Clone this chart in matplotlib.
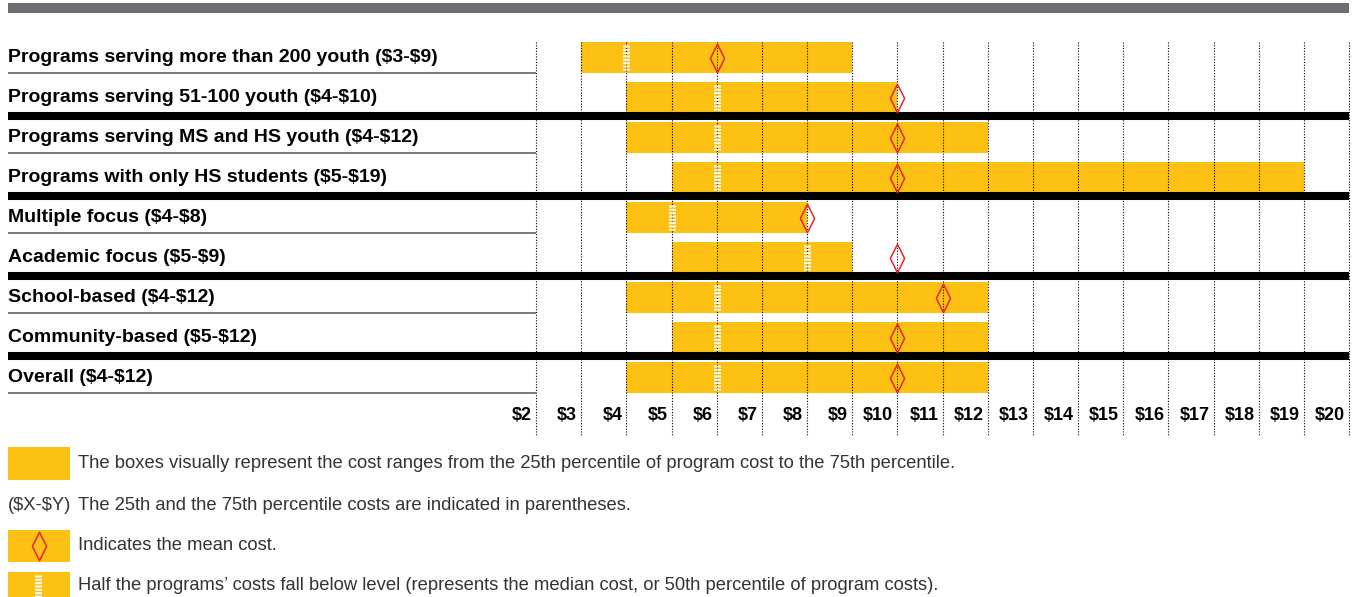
import matplotlib
matplotlib.use("Agg")
import matplotlib.pyplot as plt
from matplotlib.path import Path
from matplotlib.patches import Rectangle
import numpy as np

plt.rcParams['lines.scale_dashes'] = False

# ---------------- data ----------------
labels = [
    "Programs serving more than 200 youth ($3-$9)",
    "Programs serving 51-100 youth ($4-$10)",
    "Programs serving MS and HS youth ($4-$12)",
    "Programs with only HS students ($5-$19)",
    "Multiple focus ($4-$8)",
    "Academic focus ($5-$9)",
    "School-based ($4-$12)",
    "Community-based ($5-$12)",
    "Overall ($4-$12)",
]
p25 = [3, 4, 4, 5, 4, 5, 4, 5, 4]
p75 = [9, 10, 12, 19, 8, 9, 12, 12, 12]
median = [4, 6, 6, 6, 5, 8, 6, 6, 6]
mean = [6, 10, 10, 10, 8, 10, 11, 10, 10]
tick_values = list(range(2, 21))
tick_labels = [f"${v}" for v in tick_values]
legend_texts = [
    "The boxes visually represent the cost ranges from the 25th percentile of program cost to the 75th percentile.",
    "The 25th and the 75th percentile costs are indicated in parentheses.",
    "Indicates the mean cost.",
    "Half the programs\u2019 costs fall below level (represents the median cost, or 50th percentile of program costs).",
]

# ---------------- style ----------------
YELLOW = "#FDC113"
RED = "#E8232A"
GRAY = "#6D6E71"
W, H = 1357, 597
DPI = 100
PX_PER_D = 45.17   # pixels per dollar
X0_PIX = 536       # pixel position of $2
ROW_PITCH = 40
ROW0_PIX = 57.5

def px2x(p):
    return 2 + (p - X0_PIX) / PX_PER_D

def py2y(p):
    return (p - ROW0_PIX) / ROW_PITCH

fig = plt.figure(figsize=(W / DPI, H / DPI), dpi=DPI)
ax = fig.add_axes([0, 0, 1, 1])
ax.set_xlim(px2x(0), px2x(W))
ax.set_ylim(py2y(H), py2y(0))
ax.axis("off")

diamond = Path([(0, 1), (0.5, 0), (0, -1), (-0.5, 0), (0, 1)],
               [Path.MOVETO, Path.LINETO, Path.LINETO, Path.LINETO, Path.CLOSEPOLY])

n = len(labels)
rows = np.arange(n)
BAR_H = 31.6 / ROW_PITCH

# top gray band
ax.add_patch(Rectangle((px2x(8), py2y(3)), px2x(1349) - px2x(8), py2y(13) - py2y(3),
                       color=GRAY, lw=0, zorder=1))

# bars
ax.barh(rows, np.array(p75) - np.array(p25), left=p25, height=BAR_H,
        color=YELLOW, lw=0, zorder=2)

# dotted grid lines
ax.vlines(tick_values, py2y(42), py2y(436), colors="black", lw=0.8,
          linestyles=(0, (0.8, 1.2)), zorder=3)

# separators
for i in rows:
    if i % 2 == 0:
        ax.plot([px2x(8), 2], [i + BAR_H / 2] * 2, color="#555555", lw=1.1, zorder=4,
                solid_capstyle="butt")
    else:
        ax.plot([px2x(8), 20], [i + 0.5 - 0.04] * 2, color="black", lw=5.8, zorder=4,
                solid_capstyle="butt")

# medians
ax.vlines(median, rows - 0.31, rows + 0.31, colors="white", lw=5,
          linestyles=(0, (1.4, 1.0)), zorder=5)

# means
ax.plot(mean, rows, ls="none", marker=diamond, ms=20.5, mfc="none",
        mec=RED, mew=1.1, zorder=6)

# row labels
for i, lab in enumerate(labels):
    ax.text(px2x(8), i, lab, ha="left", va="center", fontsize=14,
            fontweight="bold", family="Liberation Sans", color="black", zorder=7,
            parse_math=False)

# tick labels
for v, t in zip(tick_values, tick_labels):
    ax.text(v - 4 / PX_PER_D, py2y(416), t, ha="right", va="center", fontsize=13,
            fontweight="bold", family="Liberation Sans", color="black", zorder=7,
            parse_math=False)

# legend
leg_rows_pix = [464, 505, 546, 585]
sw_x0, sw_x1 = px2x(8), px2x(70)
sw_spans = [(447, 480), None, (530, 562), (572, 597)]
for (yp, span, txt) in zip(leg_rows_pix, sw_spans, legend_texts):
    if span is not None:
        ax.add_patch(Rectangle((sw_x0, py2y(span[0])), sw_x1 - sw_x0,
                               py2y(span[1]) - py2y(span[0]), color=YELLOW, lw=0, zorder=2))
    ax.text(px2x(78), py2y(yp), txt, ha="left", va="center", fontsize=13.2,
            family="Liberation Sans", color="#333333", zorder=7, parse_math=False)

ax.text(px2x(8), py2y(leg_rows_pix[1]), "($X-$Y)", ha="left", va="center", fontsize=13.2,
        family="Liberation Sans", color="#333333", zorder=7, parse_math=False)
# legend diamond
ax.plot([px2x(39)], [py2y(546)], ls="none", marker=diamond, ms=20.5, mfc="none",
        mec=RED, mew=1.1, zorder=6)
# legend median
ax.vlines([px2x(38)], py2y(575), py2y(597), colors="white", lw=5,
          linestyles=(0, (1.4, 1.0)), zorder=5)

fig.savefig("out.png", dpi=DPI)
